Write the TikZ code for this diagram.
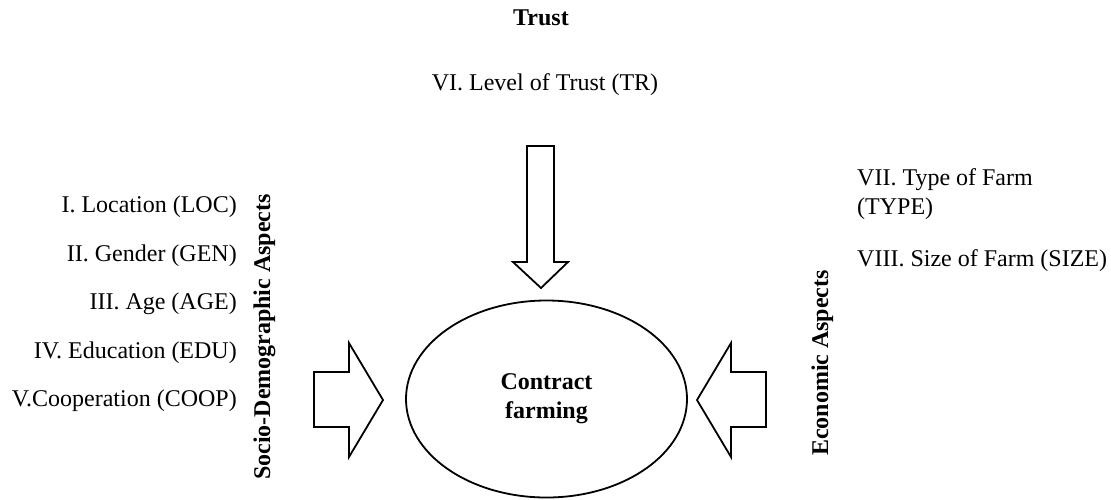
\documentclass[tikz,border=0pt]{standalone}
\usepackage{fontspec}
\setmainfont{Liberation Serif}
\usetikzlibrary{shapes.geometric}
\begin{document}
\begin{tikzpicture}[x=1pt,y=-1pt,
  txt/.style={inner sep=0pt,font=\fontsize{24}{29}\selectfont},
  hdr/.style={inner sep=0pt,font=\fontsize{24}{29}\selectfont\bfseries},
  blockarrow/.style={draw=black,line width=1.8pt,line join=miter,fill=white}]
\useasboundingbox (0,0) rectangle (1111,499);
% title
\node[hdr,anchor=base] (trust) at (541,25) {Trust};
\node[txt,anchor=base] (tr) at (545,90) {VI. Level of Trust (TR)};
% left list
\node[txt,anchor=base east] (loc) at (237,212.7) {I. Location (LOC)};
\node[txt,anchor=base east] (gen) at (237,261) {II. Gender (GEN)};
\node[txt,anchor=base east] (age) at (237,309.5) {III. Age (AGE)};
\node[txt,anchor=base east] (edu) at (237,358) {IV. Education (EDU)};
\node[txt,anchor=base east] (coop) at (237,406.5) {V.Cooperation (COOP)};
\node[hdr,anchor=base,rotate=90] (socio) at (270,337) {Socio-Demographic Aspects};
% right list
\node[txt,anchor=base west] (type1) at (857,185) {VII. Type of Farm};
\node[txt,anchor=base west] (type2) at (857,214) {(TYPE)};
\node[txt,anchor=base west] (size) at (857,266) {VIII. Size of Farm (SIZE)};
\node[hdr,anchor=base,rotate=90] (econ) at (828,363) {Economic Aspects};
% centre
\node[draw,ellipse,line width=1.8pt,minimum width=281pt,minimum height=197pt,inner sep=0pt,
  align=center,font=\fontsize{24}{29}\selectfont\bfseries] (cf) at (546.5,399) {Contract\\farming};
% block arrows
\draw[blockarrow] (527,146) -- (554,146) -- (554,262) -- (568,262) -- (541,288) -- (513,262) -- (527,262) -- cycle;
\draw[blockarrow] (314,372) -- (349,372) -- (349,343) -- (383,400) -- (349,457) -- (349,427) -- (314,427) -- cycle;
\draw[blockarrow] (766,372) -- (731,372) -- (731,343) -- (697,400) -- (731,457) -- (731,427) -- (766,427) -- cycle;
\end{tikzpicture}
\end{document}
